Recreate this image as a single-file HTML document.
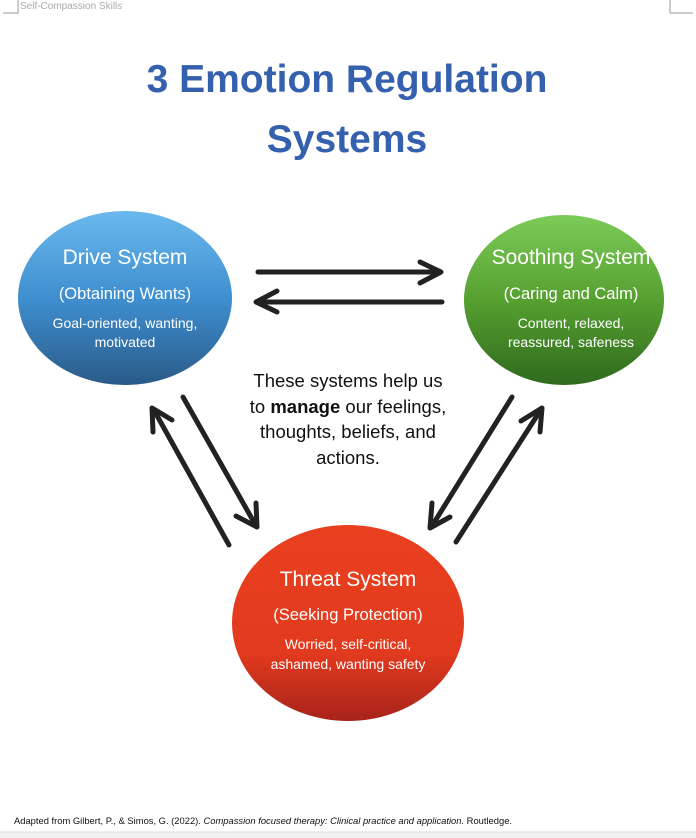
<!DOCTYPE html>
<html><head><meta charset="utf-8"><style>
html,body{margin:0;padding:0;background:#fff;}
svg{display:block;font-family:"Liberation Sans",Arial,sans-serif;}
</style></head><body>
<svg width="696" height="838" viewBox="0 0 696 838" xmlns="http://www.w3.org/2000/svg">
<defs>
<linearGradient id="gb" x1="0" y1="0" x2="0" y2="1"><stop offset="0" stop-color="#6ab8ec"/><stop offset="0.5" stop-color="#3f8fd0"/><stop offset="1" stop-color="#2a5a88"/></linearGradient>
<linearGradient id="gg" x1="0" y1="0" x2="0" y2="1"><stop offset="0" stop-color="#7ccc5a"/><stop offset="0.5" stop-color="#56a030"/><stop offset="1" stop-color="#2f6a1e"/></linearGradient>
<linearGradient id="gr" x1="0" y1="0" x2="0" y2="1"><stop offset="0" stop-color="#e8401f"/><stop offset="0.65" stop-color="#e23a1e"/><stop offset="1" stop-color="#a8231a"/></linearGradient>
</defs>
<path d="M3 13 H18 V0" stroke="#999" fill="none" stroke-width="1"/>
<path d="M693 13 H670 V0" stroke="#999" fill="none" stroke-width="1"/>
<text x="20" y="9" font-size="10" fill="#aaa">Self-Compassion Skills</text>
<text x="347" y="92" text-anchor="middle" font-size="39" font-weight="bold" fill="#3460ad">3 Emotion Regulation</text>
<text x="347" y="152" text-anchor="middle" font-size="39" font-weight="bold" fill="#3460ad">Systems</text>

<ellipse cx="125" cy="298" rx="107" ry="87" fill="url(#gb)"/>
<text x="125" y="264" text-anchor="middle" font-size="21" fill="#fff">Drive System</text>
<text x="125" y="299" text-anchor="middle" font-size="16.5" fill="#fff">(Obtaining Wants)</text>
<text x="125" y="328" text-anchor="middle" font-size="14" fill="#fff">Goal-oriented, wanting,</text>
<text x="125" y="347" text-anchor="middle" font-size="14" fill="#fff">motivated</text>

<ellipse cx="564" cy="300" rx="100" ry="85" fill="url(#gg)"/>
<text x="571" y="264" text-anchor="middle" font-size="21" fill="#fff">Soothing System</text>
<text x="571" y="299" text-anchor="middle" font-size="16.5" fill="#fff">(Caring and Calm)</text>
<text x="571" y="328" text-anchor="middle" font-size="14" fill="#fff">Content, relaxed,</text>
<text x="571" y="347" text-anchor="middle" font-size="14" fill="#fff">reassured, safeness</text>

<ellipse cx="348" cy="623" rx="116" ry="98" fill="url(#gr)"/>
<text x="348" y="586" text-anchor="middle" font-size="21" fill="#fff">Threat System</text>
<text x="348" y="620" text-anchor="middle" font-size="16.5" fill="#fff">(Seeking Protection)</text>
<text x="348" y="649" text-anchor="middle" font-size="14" fill="#fff">Worried, self-critical,</text>
<text x="348" y="669" text-anchor="middle" font-size="14" fill="#fff">ashamed, wanting safety</text>

<g stroke="#222" stroke-width="5" fill="none" stroke-linecap="round" stroke-linejoin="round">
<line x1="258" y1="272" x2="440" y2="272"/><polyline points="420,262 441,272 420,283"/>
<line x1="442" y1="302" x2="258" y2="302"/><polyline points="277,291 256,302 277,312"/>
<line x1="183" y1="397" x2="255" y2="524"/><polyline points="236,516 257,527 256,503"/>
<line x1="229" y1="545" x2="155" y2="412"/><polyline points="153,432 152,408 172,420"/>
<line x1="512" y1="397" x2="432" y2="526"/><polyline points="432,503 430,528 450,517"/>
<line x1="456" y1="542" x2="540" y2="411"/><polyline points="521,421 542,408 540,432"/>
</g>

<g font-size="18.5" fill="#111" text-anchor="middle">
<text x="348" y="387">These systems help us</text>
<text x="348" y="413">to <tspan font-weight="bold">manage</tspan> our feelings,</text>
<text x="348" y="438">thoughts, beliefs, and</text>
<text x="348" y="464">actions.</text>
</g>

<text x="14" y="824" font-size="9.4" fill="#111">Adapted from Gilbert, P., &amp; Simos, G. (2022). <tspan font-style="italic">Compassion focused therapy: Clinical practice and application.</tspan> Routledge.</text>
<rect x="0" y="832" width="696" height="6" fill="#f2f2f2"/>
<line x1="0" y1="832" x2="696" y2="832" stroke="#ddd"/>
</svg>
</body></html>
